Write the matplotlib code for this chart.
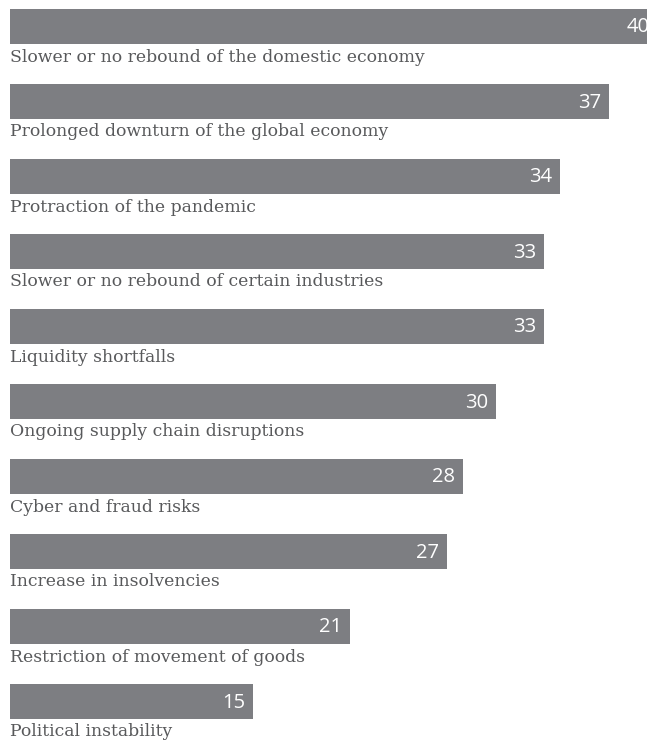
import matplotlib.pyplot as plt

categories = [
    'Slower or no rebound of the domestic economy',
    'Prolonged downturn of the global economy',
    'Protraction of the pandemic',
    'Slower or no rebound of certain industries',
    'Liquidity shortfalls',
    'Ongoing supply chain disruptions',
    'Cyber and fraud risks',
    'Increase in insolvencies',
    'Restriction of movement of goods',
    'Political instability',
]
values = [40, 37, 34, 33, 33, 30, 28, 27, 21, 15]

W, H = 647, 740
fig = plt.figure(figsize=(W / 100, H / 100), dpi=100)
ax = fig.add_axes([10 / W, 0, (W - 10) / W, 1])

px_per_unit = 16.19
ax.set_xlim(0, (W - 10) / px_per_unit)
ax.set_ylim(H, 0)
ax.axis('off')

bar_color = '#7d7e82'
pitch = 75
first = 26.5
bar_h = 35

for i, (cat, v) in enumerate(zip(categories, values)):
    y = first + pitch * i
    ax.barh(y, v, height=bar_h, color=bar_color, linewidth=0)
    ax.text(v - 8 / px_per_unit, y + 1, str(v), ha='right', va='center',
            color='white', fontsize=14.5, family='Open Sans')
    ax.text(0, y + bar_h / 2 + 4.5, cat, ha='left', va='top',
            color='#58595b', fontsize=12.4, family='DejaVu Serif')

fig.savefig('out.png', dpi=100)
